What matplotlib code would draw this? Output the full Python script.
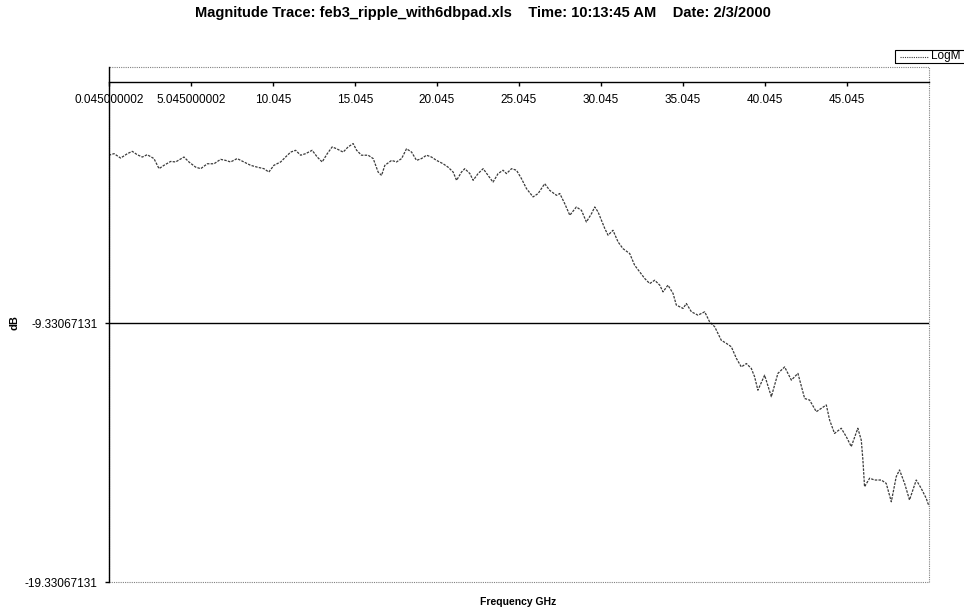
import matplotlib
matplotlib.use("Agg")
import matplotlib.pyplot as plt
from matplotlib.patches import Rectangle
from matplotlib.lines import Line2D

plt.rcParams['font.family'] = ['Liberation Sans', 'DejaVu Sans']

# trace (GHz, dB)
freq = [0.045, 0.37, 0.77, 1.18, 1.48, 1.78, 2.09, 2.39, 2.80, 3.11,
        3.41, 3.82, 4.12, 4.63, 4.93, 5.34, 5.65, 6.05, 6.46, 6.86,
        7.17, 7.47, 7.87, 8.28, 8.69, 9.09, 9.50, 9.80, 10.11, 10.52,
        10.82, 11.13, 11.43, 11.74, 12.04, 12.44, 12.75, 13.05, 13.36, 13.66,
        13.93, 14.33, 14.63, 14.94, 15.15, 15.45, 15.85, 16.16, 16.46, 16.67,
        16.87, 17.28, 17.58, 17.89, 18.19, 18.50, 18.80, 19.10, 19.41, 19.71,
        20.02, 20.42, 20.72, 21.03, 21.24, 21.54, 21.74, 22.05, 22.25, 22.55,
        22.86, 23.16, 23.46, 23.77, 24.07, 24.28, 24.59, 24.89, 25.19, 25.50,
        25.90, 26.21, 26.61, 26.92, 27.33, 27.53, 27.83, 28.14, 28.54, 28.85,
        29.15, 29.46, 29.66, 29.86, 30.27, 30.47, 30.77, 31.08, 31.38, 31.79,
        32.09, 32.40, 32.70, 33.01, 33.31, 33.62, 33.82, 34.12, 34.43, 34.63,
        35.04, 35.24, 35.55, 35.95, 36.36, 36.66, 36.97, 37.37, 37.68, 37.98,
        38.29, 38.59, 38.90, 39.20, 39.40, 39.60, 40.01, 40.42, 40.82, 41.23,
        41.64, 42.04, 42.45, 42.75, 43.16, 43.77, 43.97, 44.27, 44.68, 44.99,
        45.29, 45.69, 45.90, 46.00, 46.10, 46.41, 46.71, 47.12, 47.42, 47.73,
        48.03, 48.23, 48.54, 48.84, 49.25, 49.55, 49.86, 49.96, 50.045]
logm = [-2.84, -2.78, -2.95, -2.78, -2.69, -2.82, -2.91, -2.82, -2.97, -3.36,
        -3.23, -3.08, -3.10, -2.91, -3.10, -3.30, -3.36, -3.17, -3.17, -3.00,
        -3.04, -3.10, -2.97, -3.10, -3.23, -3.30, -3.36, -3.49, -3.23, -3.10,
        -2.91, -2.72, -2.65, -2.84, -2.78, -2.65, -2.91, -3.10, -2.78, -2.52,
        -2.59, -2.72, -2.52, -2.39, -2.65, -2.84, -2.84, -2.97, -3.49, -3.62,
        -3.23, -3.04, -3.10, -2.97, -2.59, -2.72, -3.04, -2.97, -2.84, -2.91,
        -3.04, -3.17, -3.30, -3.49, -3.81, -3.49, -3.36, -3.55, -3.81, -3.55,
        -3.36, -3.62, -3.88, -3.55, -3.42, -3.55, -3.36, -3.42, -3.74, -4.13,
        -4.45, -4.32, -3.94, -4.20, -4.39, -4.32, -4.71, -5.16, -4.84, -4.97,
        -5.42, -5.10, -4.84, -5.03, -5.67, -5.93, -5.74, -6.19, -6.45, -6.64,
        -7.09, -7.35, -7.60, -7.80, -7.67, -7.86, -8.12, -7.86, -8.18, -8.63,
        -8.76, -8.57, -8.89, -9.02, -8.89, -9.28, -9.47, -9.99, -10.11, -10.24,
        -10.69, -11.02, -10.89, -11.08, -11.40, -11.92, -11.34, -12.17, -11.27, -11.02,
        -11.53, -11.27, -12.24, -12.30, -12.75, -12.49, -13.07, -13.59, -13.39, -13.72,
        -14.10, -13.39, -13.85, -14.62, -15.65, -15.32, -15.39, -15.39, -15.52, -16.23,
        -15.26, -15.00, -15.52, -16.16, -15.39, -15.71, -16.10, -16.29, -16.40]

xticks = [0.045, 5.045, 10.045, 15.045, 20.045, 25.045, 30.045, 35.045, 40.045, 45.045]
xlabels = ['0.045000002', '5.045000002', '10.045', '15.045', '20.045',
           '25.045', '30.045', '35.045', '40.045', '45.045']
yticks = [-19.33067131, -9.33067131]
ylabels = ['-19.33067131', '-9.33067131']

fig = plt.figure(figsize=(9.64, 6.12), dpi=100)
ax = fig.add_axes([0.1128, 0.049, 0.8512, 0.842])

ax.plot(freq, logm, color='#3a3a3a', lw=0.9, ls=(0, (2, 1)))
ax.axhline(yticks[1], color='black', lw=1)

ax.set_xlim(0.045, 50.045)
ax.set_ylim(-19.33067131, 0.58)

ax.spines['top'].set_visible(False)
ax.spines['right'].set_visible(False)
ax.spines['bottom'].set_position(('data', 0))
ax.spines['bottom'].set_linewidth(1)
ax.spines['left'].set_linewidth(1)
ax.add_patch(Rectangle((0, 0), 1, 1, transform=ax.transAxes, fill=False,
                       ec='#808080', lw=0.8, ls=(0, (1, 1)), clip_on=False))

ax.set_xticks(xticks)
ax.set_xticklabels(xlabels)
ax.set_yticks(yticks)
ax.set_yticklabels(ylabels)
ax.tick_params(axis='x', direction='out', length=3, width=1, pad=6, labelsize=8.5)
ax.tick_params(axis='y', direction='out', length=3, width=1, pad=5, labelsize=8.5)

fig.text(0.501, 1 - 13 / 612,
         'Magnitude Trace: feb3_ripple_with6dbpad.xls    Time: 10:13:45 AM    Date: 2/3/2000',
         ha='center', va='center', fontsize=10.5, fontweight='bold')
fig.text(14 / 964, 1 - 323 / 612, 'dB', rotation=90, ha='center', va='center',
         fontsize=8, fontweight='bold')
fig.text(518 / 964, 1 - 602 / 612, 'Frequency GHz', ha='center', va='center',
         fontsize=7.5, fontweight='bold')

# legend box, runs off the right edge like the original
fig.add_artist(Rectangle((895 / 964, 1 - 63 / 612), 80 / 964, 13 / 612,
                         transform=fig.transFigure, fill=False, ec='black', lw=0.8))
fig.add_artist(Line2D([900 / 964, 928 / 964], [1 - 56.5 / 612] * 2,
                      transform=fig.transFigure, color='#3a3a3a', lw=0.8, ls=(0, (1, 1))))
fig.text(931 / 964, 1 - 56.5 / 612, 'LogM', ha='left', va='center', fontsize=8.5)

fig.savefig('out.png', dpi=100)
